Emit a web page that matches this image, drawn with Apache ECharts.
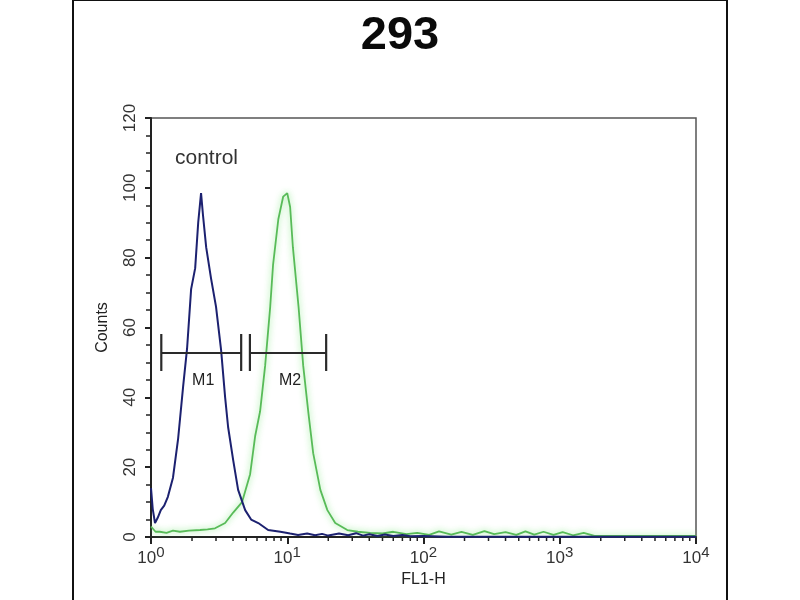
<!DOCTYPE html>
<html>
<head>
<meta charset="utf-8">
<script src="https://cdn.jsdelivr.net/npm/echarts@6/dist/echarts.min.js"></script>
<style>
  html, body { margin: 0; padding: 0; background: #fff; }
  #chart { width: 800px; height: 600px; }
</style>
</head>
<body>
<div id="chart"></div>
<script>
// control (blue) histogram
var blueX = [1.0, 1.03, 1.07, 1.12, 1.18, 1.25, 1.33, 1.45, 1.58, 1.72, 1.84, 1.97, 2.11, 2.22, 2.33, 2.41, 2.54, 2.76, 3.0, 3.27, 3.5, 3.68, 4.01, 4.36, 4.91, 5.43, 6.13, 7.24, 8.9, 10.5, 12, 14, 16, 18, 20, 24, 28, 32, 36, 40, 46, 52, 60, 70, 80, 100, 150, 300, 10000];
var blueY = [14, 8, 4, 5.5, 7.7, 9, 11.5, 17, 28, 43, 54, 71, 77, 90, 98.5, 92, 83, 74, 66, 53.5, 40, 31.5, 22, 13.5, 7.7, 5, 4, 2, 1.5, 1, 0.6, 1, 0.5, 0.9, 0.4, 1, 0.5, 1.1, 0.4, 0.8, 0.3, 0.7, 0.3, 0.6, 0.2, 0.3, 0.1, 0.1, 0.1];
// sample (green) histogram
var greenX = [1.0, 1.08, 1.16, 1.3, 1.45, 1.63, 1.9, 2.29, 2.6, 2.95, 3.5, 4.01, 4.66, 5.34, 5.82, 6.32, 6.88, 7.5, 7.87, 8.6, 9.34, 10.0, 10.5, 11.0, 12.1, 13.1, 14.3, 15.5, 17.5, 19.7, 22.5, 27.6, 33, 40.7, 50, 60, 75, 90, 110, 130, 160, 190, 230, 280, 330, 400, 480, 560, 650, 760, 900, 1050, 1250, 1500, 1800, 10000];
var greenY = [3, 1.5, 1.5, 1.2, 1.8, 1.5, 1.8, 2, 2.2, 2.5, 4, 7, 10, 18, 29, 36, 49, 66, 78, 91, 97.5, 98.5, 94.5, 83, 66, 49, 35.5, 24, 13.5, 7.7, 4, 2, 1.5, 1.2, 1, 1.5, 0.8, 1.2, 0.6, 1.6, 0.7, 1.5, 0.6, 1.7, 0.8, 1.4, 0.6, 1.6, 0.7, 1.5, 0.6, 1.4, 0.5, 1.2, 0.3, 0.3];
// gates M1 / M2
var markerNames = ["M1", "M2"];
var markerStart = [1.19, 5.32];
var markerEnd = [4.59, 19.3];
var markerLevel = 52.7;
// axis ticks
var yTicks = [0, 20, 40, 60, 80, 100, 120];
var xMinor = [];
for (var d = 0; d < 4; d++) {
  for (var k = 2; k <= 9; k++) xMinor.push(k * Math.pow(10, d));
}

function pairs(xs, ys) {
  return xs.map(function (x, i) { return [x, ys[i]]; });
}

var chart = echarts.init(document.getElementById("chart"), null, { renderer: "canvas" });

var option = {
  animation: false,
  backgroundColor: "#fff",
  title: {
    text: "293",
    left: "center",
    top: 8,
    textStyle: { fontFamily: "Liberation Sans", fontSize: 47, fontWeight: "bold", color: "#0a0a0a" }
  },
  graphic: [
    {
      type: "rect",
      shape: { x: 73, y: 0, width: 654, height: 612 },
      style: { fill: "none", stroke: "#111", lineWidth: 2 },
      silent: true
    },
    {
      type: "text",
      left: 175,
      top: 148,
      style: { text: "control", fontFamily: "Liberation Sans", fontSize: 21, fill: "#333" }
    }
  ],
  grid: { left: 151, right: 104, top: 118, bottom: 63, containLabel: false, show: true, borderColor: "#555", borderWidth: 1.5 },
  xAxis: {
    type: "log",
    logBase: 10,
    min: 1,
    max: 10000,
    name: "FL1-H",
    nameLocation: "middle",
    nameGap: 34,
    nameTextStyle: { fontFamily: "Liberation Sans", fontSize: 16, color: "#222" },
    axisLine: { lineStyle: { color: "#222", width: 2 } },
    axisTick: { inside: false, length: 7, lineStyle: { color: "#222", width: 2 } },
    splitLine: { show: false },
    axisLabel: {
      margin: 8,
      fontFamily: "Liberation Sans",
      fontSize: 17,
      color: "#333",
      formatter: function (v) {
        return "10{s|" + Math.round(Math.log10(v)) + "}";
      },
      rich: { s: { fontSize: 15, verticalAlign: "top", padding: [0, 0, 12, 0], fontFamily: "Liberation Sans", color: "#333" } }
    }
  },
  yAxis: {
    type: "value",
    min: 0,
    max: 120,
    interval: 20,
    name: "Counts",
    nameLocation: "middle",
    nameGap: 40,
    nameTextStyle: { fontFamily: "Liberation Sans", fontSize: 16, color: "#222" },
    axisLine: { show: true, lineStyle: { color: "#222", width: 2 } },
    axisTick: { show: true, length: 6, lineStyle: { color: "#222", width: 2 } },
    minorTick: { show: true, splitNumber: 4, length: 5, lineStyle: { color: "#222", width: 1.5 } },
    splitLine: { show: false },
    axisLabel: {
      rotate: 90,
      margin: 12,
      fontFamily: "Liberation Sans",
      fontSize: 17,
      color: "#333",
      formatter: function (v) { return yTicks.indexOf(v) >= 0 ? String(v) : ""; }
    }
  },
  series: [
    {
      name: "control",
      type: "line",
      data: pairs(blueX, blueY),
      showSymbol: false,
      z: 3,
      lineStyle: { color: "#1c2170", width: 2 }
    },
    {
      name: "293",
      type: "line",
      data: pairs(greenX, greenY),
      showSymbol: false,
      z: 2,
      lineStyle: { color: "#58bb58", width: 1.8, shadowColor: "rgba(120,230,120,0.9)", shadowBlur: 6 }
    },
    {
      // log minor ticks under the x axis
      type: "custom",
      clip: false,
      silent: true,
      data: xMinor,
      renderItem: function (params, api) {
        var p = api.coord([api.value(0), 0]);
        return {
          type: "line",
          shape: { x1: p[0], y1: p[1], x2: p[0], y2: p[1] + 4 },
          style: { stroke: "#222", lineWidth: 1.5 }
        };
      }
    },
    {
      // M1 / M2 gates
      type: "custom",
      clip: false,
      silent: true,
      z: 4,
      data: markerStart.map(function (s, i) { return [s, markerEnd[i], markerLevel]; }),
      renderItem: function (params, api) {
        var a = api.coord([api.value(0), api.value(2)]);
        var b = api.coord([api.value(1), api.value(2)]);
        var st = { stroke: "#2a2a2a", lineWidth: 2.2 };
        var mid = (a[0] + b[0]) / 2;
        return {
          type: "group",
          children: [
            { type: "line", shape: { x1: a[0], y1: a[1], x2: b[0], y2: b[1] }, style: st },
            { type: "line", shape: { x1: a[0], y1: a[1] - 19, x2: a[0], y2: a[1] + 18 }, style: st },
            { type: "line", shape: { x1: b[0], y1: b[1] - 19, x2: b[0], y2: b[1] + 18 }, style: st },
            {
              type: "text",
              x: mid + 2,
              y: a[1] + 28,
              style: {
                text: markerNames[params.dataIndex],
                fontFamily: "Liberation Sans",
                fontSize: 16,
                fill: "#222",
                align: "center",
                verticalAlign: "middle"
              }
            }
          ]
        };
      }
    }
  ]
};

chart.setOption(option);
</script>
</body>
</html>
